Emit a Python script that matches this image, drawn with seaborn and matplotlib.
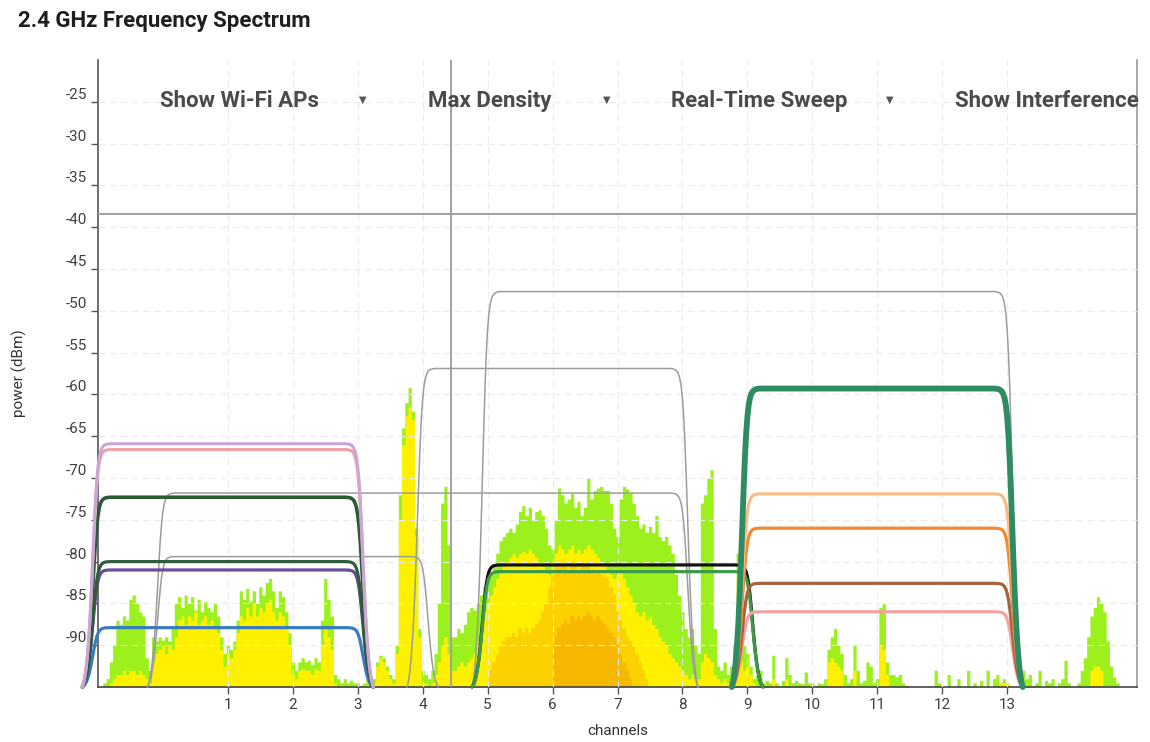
import numpy as np
import matplotlib
matplotlib.use("Agg")
import matplotlib.pyplot as plt
import seaborn as sns

# --- data -------------------------------------------------------------------

FLOOR = -95

# spectrum bins: every 0.05 channel from -1 to 15
chan = np.round(np.arange(-1, 15.0001, 0.05), 2)

# max-hold trace (lime)
green_rows = [
    [-95, -95, -94.5, -94, -92, -90, -87, -87.5, -86.5, -87, -84.5, -84, -85, -86, -86.5, -91.5, -93, -89, -89.5, -89],
    [-89.4, -89, -89.5, -88, -85, -84.2, -85.5, -84, -85, -84.2, -85.8, -84.5, -86, -84.8, -85.5, -86, -85, -86.5, -89, -91],
    [-90, -90.5, -89.5, -87, -83.5, -84.5, -83.2, -84.8, -83.5, -85, -83, -84, -82.5, -82, -83.5, -85.5, -83.5, -84.2, -86, -88.5],
    [-92, -93, -92, -91.5, -92, -91.8, -92.3, -91.5, -92, -87, -82, -84.5, -86.5, -93.5, -94, -94.5, -94, -94.5, -94.2, -94.5],
    [-94.5, -94.8, -94.5, -94, -94.5, -94, -92, -91.2, -91.5, -92.5, -93.5, -94, -90, -72, -64, -61, -59.2, -62, -76, -88],
    [-93, -93.5, -94, -93, -91, -85, -73, -71, -78, -89, -89, -88, -88.5, -87.5, -86, -85.5, -85.8, -85, -84, -83],
    [-82, -81.5, -80.5, -79, -77.5, -77, -76.5, -76, -76.5, -75.5, -74, -73.3, -74.5, -73.5, -75, -74, -73.8, -74.5, -76, -78],
    [-78.5, -75, -71.2, -72, -73, -72.5, -71.8, -73.5, -72.8, -74.5, -73.5, -70, -72.5, -71.5, -71.2, -71, -71.5, -71.5, -73, -76],
    [-77, -72.5, -71, -71.3, -71.8, -73, -74.5, -76, -75.5, -76.5, -75.8, -76.5, -74.5, -77, -77.5, -77, -78, -79, -81.5, -84],
    [-86, -88, -89, -88, -90, -91, -73, -72, -70, -69, -88, -92.5, -93, -92, -93.5, -92.5, -90, -79, -86, -90],
    [-91, -92.5, -94, -93.5, -93, -94.5, -94.2, -94.5, -91.2, -94.5, -94.8, -94.2, -91.5, -93.5, -94.5, -94.2, -94.5, -94.6, -93.2, -94.5],
    [-94.5, -94.8, -94.5, -94.6, -94, -90.5, -89, -88, -90, -91, -93.5, -94.5, -94, -90, -93, -94.5, -94.2, -92, -92.5, -94.5],
    [-94, -85.5, -85, -92, -93.5, -93.5, -93.8, -93.5, -94.5, -94.8, -95, -95, -95, -95, -95, -95, -95, -95, -93, -94.5],
    [-95, -95, -93.5, -95, -95, -94, -95, -95, -93, -95, -94.5, -95, -94.2, -95, -93, -95, -94, -93.5, -94.5, -94],
    [-94.5, -94.8, -95, -95, -94.5, -93, -94, -93.5, -94.8, -94.5, -93, -95, -94.2, -94.5, -94, -95, -94.5, -94, -91.8, -94.5],
    [-95, -95, -94.5, -93, -91.5, -89, -86.5, -85.5, -84.2, -85, -86, -89.5, -92.5, -93.8, -94.5, -95, -95, -95, -95, -95],
]
green = sum(green_rows, []) + [-95]

# typical-density trace (yellow)
yellow_rows = [
    [-95, -95, -95, -95, -94.5, -94, -93.5, -93.5, -93, -93.5, -93, -93, -93.5, -93, -93.5, -94, -94.5, -92, -91, -90.5],
    [-90, -91, -90, -90.5, -89, -87, -86.5, -87.5, -86.5, -87, -86, -87.5, -87, -86.5, -87.5, -87, -88, -88.5, -90.5, -92.5],
    [-91, -91.5, -90.5, -88.5, -86.5, -87, -85.5, -86.5, -85, -86.5, -85.5, -86, -85, -84.5, -86, -87, -86, -86.5, -88, -90],
    [-93.5, -94, -93, -92.8, -93, -93, -93.5, -92.8, -93, -90, -88, -89, -90.5, -94.5, -95, -94.8, -95, -94.8, -95, -95],
    [-95, -95, -95, -94.8, -95, -94.5, -92.5, -91.5, -92, -93, -94, -94.5, -91, -75, -66, -62.5, -61.5, -63, -77, -89],
    [-94.5, -94.5, -95, -94.5, -93.5, -92, -90, -89, -91, -93, -93, -92.5, -92, -92.5, -92, -91.5, -91, -90, -88, -86],
    [-85, -84, -83, -82, -81, -80.5, -80, -79.5, -79, -79.5, -79, -78.8, -79, -78.5, -79, -79.5, -80, -80.5, -81, -81.5],
    [-80, -79, -78, -78.5, -79, -78.5, -78, -79, -78.5, -79, -78.5, -78, -78.5, -79, -79.5, -80, -80.5, -81, -81.5, -82],
    [-81.5, -81, -82, -83, -84, -85, -86, -86.5, -86, -87, -86.5, -87.5, -88, -89, -89.5, -90, -91, -91.5, -92, -92.5],
    [-93, -93.5, -94, -93.5, -94, -94, -92, -91, -91.5, -92, -93.5, -94, -94.5, -94, -94.5, -94, -92, -91, -92, -93],
    [-92.5, -93.5, -94.5, -95, -95, -95, -95, -95, -94, -95, -95, -95, -94, -95, -95, -95, -95, -95, -95, -95],
    [-95, -95, -95, -95, -95, -92, -91.5, -92, -92.5, -93, -95, -95, -95, -93, -95, -95, -95, -95, -95, -95],
    [-95, -90, -90.5, -93.5, -95, -95, -95, -95, -95, -95, -95, -95, -95, -95, -95, -95, -95, -95, -95, -95],
    [-95, -95, -95, -95, -95, -95, -95, -95, -95, -95, -95, -95, -95, -95, -95, -95, -95, -95, -94.5, -94.5],
    [-94.5, -95, -95, -95, -95, -95, -95, -95, -95, -95, -95, -95, -95, -95, -95, -95, -95, -95, -95, -95],
    [-95, -95, -95, -95, -95, -95, -93, -92.5, -92.5, -93, -95, -95, -95, -95, -95, -95, -95, -95, -95, -95],
]
yellow = sum(yellow_rows, []) + [-95]

# dense core (gold), channels 5.00 .. 7.95
gold_from, gold_to = 5.0, 7.95
gold = [
    -94, -93, -92, -91, -90, -89.5, -89, -89, -88.5, -89, -88, -88.5, -88, -88.5, -88, -87.5, -87, -86, -85, -83,
    -81, -80.5, -80, -80.5, -80, -81, -80, -80.5, -81, -80, -80.5, -80, -81, -81.5, -81, -81.5, -82, -82, -83, -84,
    -86, -87, -88, -89, -89.5, -90, -91, -92, -93, -94, -95, -95, -95, -95, -95, -95, -95, -95, -95, -95,
]

# densest core (orange), channels 6.00 .. 7.45
deep_from, deep_to = 6.0, 7.45
deep = [
    -90, -89, -88, -87.5, -87, -87.5, -86.5, -87, -86.5, -87, -86.5, -86, -86.5, -87, -86.5, -87, -87.5, -88, -88.5, -89,
    -90, -91, -92, -93, -94, -95, -95, -95, -95, -95,
]

# access points: centre channel, half width (channels), top power (dBm)
ap_center = [9, 6, 4, 2, 1, 1, 1, 1, 1, 1, 7, 7, 11, 11, 11, 11, 11]
ap_halfwidth = [4, 2, 4, 2, 2, 2, 2, 2, 2, 2, 2, 2, 2, 2, 2, 2, 2]
ap_power = [-47.7, -56.9, -71.8, -79.4, -87.9, -81.0, -80.0, -72.3, -66.6, -65.9,
            -80.4, -81.2, -86.0, -82.6, -76.0, -71.9, -59.3]
ap_color = ["#9c9c9c", "#9c9c9c", "#9c9c9c", "#9c9c9c", "#3a7cc0", "#6a4c9e", "#2f5d3b",
            "#2d5a36", "#f2a0a6", "#c9a6d6", "#111111", "#3c9a4a", "#f4a0a0", "#a8623f",
            "#f28a2e", "#fbbb80", "#2e8b62"]
ap_width = [1.1, 1.1, 1.1, 1.1, 2.3, 2.3, 2.3, 2.6, 2.2, 2.2, 2.3, 2.3, 2.2, 2.3, 2.3, 2.2, 4.2]

# channel mask edge: offset past nominal edge (channels) -> fraction of level above floor
edge_offset = [-0.20, -0.15, -0.11, -0.08, -0.06, -0.04, -0.02, 0.0, 0.02, 0.04,
               0.06, 0.08, 0.10, 0.12, 0.14, 0.16, 0.18, 0.20, 0.22, 0.24]
edge_gain = [1.0, 0.999, 0.996, 0.99, 0.982, 0.968, 0.945, 0.905, 0.845, 0.76,
             0.65, 0.53, 0.41, 0.3, 0.21, 0.14, 0.085, 0.045, 0.018, 0.0]

cursor_power = -38.4
cursor_channel = 4.44

menu_items = ["Show Wi-Fi APs", "Max Density", "Real-Time Sweep", "Show Interference"]

# --- figure ------------------------------------------------------------------

sns.set_theme(style="white")
plt.rcParams["font.family"] = ["Roboto", "DejaVu Sans"]
plt.rcParams["axes.unicode_minus"] = False

W, H = 1150, 742
fig = plt.figure(figsize=(W / 100, H / 100), dpi=100)
ax = fig.add_axes([98 / W, 1 - 687 / H, (1137 - 98) / W, (687 - 60) / H])


def band(lo, hi):
    return (chan >= lo - 1e-9) & (chan <= hi + 1e-9)


# spectrum density
ax.fill_between(chan, FLOOR, green, step="mid", color="#9cf01c", lw=0, zorder=1)
ax.fill_between(chan, FLOOR, yellow, step="mid", color="#fff000", lw=0, zorder=1.1)
ax.fill_between(chan[band(gold_from, gold_to)], FLOOR, gold, step="mid",
                color="#fbd200", lw=0, zorder=1.2)
ax.fill_between(chan[band(deep_from, deep_to)], FLOOR, deep, step="mid",
                color="#f7b800", lw=0, zorder=1.3)

# cursor cross
ax.axhline(cursor_power, color="#a0a0a0", lw=1.4, zorder=4)
ax.axvline(cursor_channel, color="#a0a0a0", lw=1.4, zorder=4)

# access point masks
d = np.array(edge_offset)
g = np.array(edge_gain)
for i in range(len(ap_center)):
    c, hw, top = ap_center[i], ap_halfwidth[i], ap_power[i]
    xs = np.concatenate([c - hw - d[::-1], c + hw + d])
    ys = FLOOR + (top - FLOOR) * np.concatenate([g[::-1], g])
    sns.lineplot(x=xs, y=ys, sort=False, estimator=None, ax=ax, color=ap_color[i],
                 linewidth=ap_width[i], clip_on=False, zorder=5 + i * 0.01,
                 solid_joinstyle="round", solid_capstyle="round")

ax.set_xlim(-1, 15)
ax.set_ylim(FLOOR, -20)
ax.set_xticks(range(1, 14), labels=[str(v) for v in range(1, 14)])
yt = list(range(-90, -24, 5))
ax.set_yticks(yt, labels=[str(v) for v in yt], va="bottom")

ax.set_axisbelow(False)
ax.grid(True, color="#ebebeb", lw=0.8, ls=(0, (6, 4)))
ax.tick_params(axis="both", direction="out", length=5, width=1, color="#555555",
               labelsize=11, labelcolor="#404040", bottom=True, left=True, pad=3)

ax.spines["top"].set_visible(False)
ax.spines["left"].set_color("#555555")
ax.spines["bottom"].set_color("#444444")
ax.spines["right"].set_color("#9a9a9a")
for side in ["left", "bottom", "right"]:
    ax.spines[side].set_linewidth(1.2)

ax.set_xlabel("channels", fontsize=11, color="#333333")
ax.set_ylabel("power (dBm)", fontsize=11, color="#333333")
ax.xaxis.set_label_coords(0.5, -0.059)
ax.yaxis.set_label_coords(-0.068, 0.5)

fig.text(18 / W, 1 - 21 / H, "2.4 GHz Frequency Spectrum", fontsize=16,
         fontweight="bold", color="#1e1e1e", va="center", ha="left")

menu_x = [160, 428, 671, 955]
arrow_x = [363, 607, 890]
for name, mx in zip(menu_items, menu_x):
    fig.text(mx / W, 1 - 101 / H, name, fontsize=16, fontweight="bold",
             color="#4a4a4a", va="center", ha="left")
for axx in arrow_x:
    fig.text(axx / W, 1 - 100 / H, "\u25bc", fontsize=7, color="#555555",
             va="center", ha="center", family=["DejaVu Sans"])

fig.savefig("out.png", dpi=100)
